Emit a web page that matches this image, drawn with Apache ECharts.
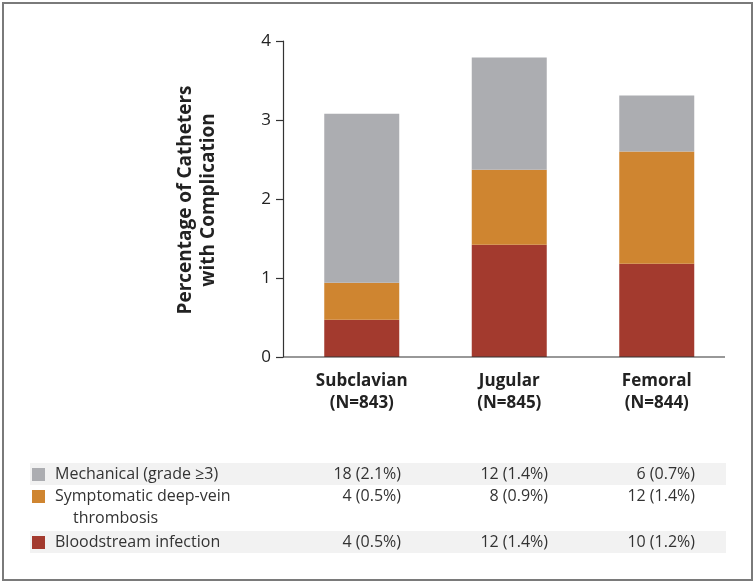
<!DOCTYPE html>
<html><head><meta charset="utf-8">
<script src="https://cdn.jsdelivr.net/npm/echarts@6/dist/echarts.min.js"></script>
<style>html,body{margin:0;padding:0;background:#fff}#c{width:755px;height:583px}</style>
</head><body><div id="c"></div>
<script>
var categories = ['Subclavian', 'Jugular', 'Femoral'];
var sampleSizes = [843, 845, 844];
var seriesNames = ['Bloodstream infection', 'Symptomatic deep-vein\nthrombosis', 'Mechanical (grade \u22653)'];
var bloodstream = [0.47, 1.42, 1.18];
var dvt = [0.47, 0.95, 1.42];
var mechanical = [2.14, 1.42, 0.71];
var countsMech = ['18 (2.1%)', '12 (1.4%)', '6 (0.7%)'];
var countsDvt = ['4 (0.5%)', '8 (0.9%)', '12 (1.4%)'];
var countsBsi = ['4 (0.5%)', '12 (1.4%)', '10 (1.2%)'];
var yTicks = [0, 1, 2, 3, 4];
var colors = ['#a33a2e', '#cf8530', '#acadb1'];

var FONT = '"Open Sans"';
var chart = echarts.init(document.getElementById('c'));
var colX = [401, 548, 695];
var g = [];
g.push({type:'rect', shape:{x:3,y:3,width:749,height:577}, style:{fill:'none', stroke:'#7a7a7a', lineWidth:2}, silent:true});
g.push({type:'text', x:197, y:200, rotation:Math.PI/2, style:{text:'Percentage of Catheters\nwith Complication', font:'bold 19px ' + FONT, fill:'#222', textAlign:'center', textVerticalAlign:'middle', lineHeight:23}});
// x axis baseline spanning from y axis to the right end
g.push({type:'line', shape:{x1:283, y1:357, x2:725, y2:357}, style:{stroke:'#333', lineWidth:1.2}, z:10, silent:true});
// table shading
g.push({type:'rect', shape:{x:30,y:463,width:696,height:22}, style:{fill:'#f2f2f2'}, silent:true});
g.push({type:'rect', shape:{x:30,y:531,width:696,height:22}, style:{fill:'#f2f2f2'}, silent:true});
var rows = [
  {name: seriesNames[2], color: colors[2], vals: countsMech, y: 474},
  {name: seriesNames[1], color: colors[1], vals: countsDvt, y: 496},
  {name: seriesNames[0], color: colors[0], vals: countsBsi, y: 542}
];
rows.forEach(function(r){
  g.push({type:'rect', shape:{x:32,y:r.y-6,width:13,height:13}, style:{fill:r.color}});
  var lines = r.name.split('\n');
  g.push({type:'text', x:55, y:r.y, style:{text:lines[0], font:'16px ' + FONT, fill:'#333', textVerticalAlign:'middle'}});
  if (lines[1]) g.push({type:'text', x:73, y:r.y+22, style:{text:lines[1], font:'16px ' + FONT, fill:'#333', textVerticalAlign:'middle'}});
  r.vals.forEach(function(v, i){
    g.push({type:'text', x:colX[i], y:r.y, style:{text:v, font:'16px ' + FONT, fill:'#333', textAlign:'right', textVerticalAlign:'middle'}});
  });
});

chart.setOption({
  animation: false,
  grid: {left: 288, right: 24.5, top: 41, bottom: 226, containLabel: false},
  xAxis: {
    type: 'category',
    data: categories.map(function(c, i){ return c + '\n(N=' + sampleSizes[i] + ')'; }),
    axisLine: {show: false},
    axisTick: {show: false},
    axisLabel: {fontFamily: FONT, fontWeight: 'bold', fontSize: 17, color: '#222', lineHeight: 22, margin: 13}
  },
  yAxis: {
    type: 'value', min: yTicks[0], max: yTicks[yTicks.length-1], interval: 1, offset: 5,
    axisLine: {show: true, lineStyle: {color: '#333', width: 1.2}},
    axisTick: {show: true, inside: false, length: 7, lineStyle: {color: '#333', width: 1.2}},
    splitLine: {show: false},
    axisLabel: {fontFamily: FONT, fontSize: 17, color: '#222', margin: 12}
  },
  series: [
    {name: seriesNames[0], type: 'bar', stack: 's', barWidth: 75, data: bloodstream, itemStyle: {color: colors[0]}},
    {name: seriesNames[1], type: 'bar', stack: 's', barWidth: 75, data: dvt, itemStyle: {color: colors[1]}},
    {name: seriesNames[2], type: 'bar', stack: 's', barWidth: 75, data: mechanical, itemStyle: {color: colors[2]}}
  ],
  graphic: g
});
</script></body></html>
